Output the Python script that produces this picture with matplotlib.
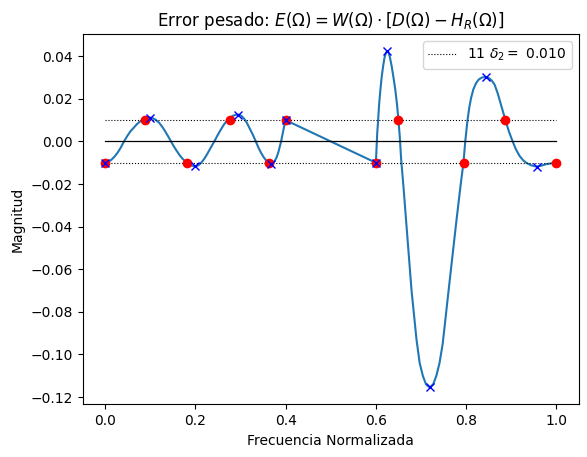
import matplotlib
matplotlib.use("Agg")
import matplotlib.pyplot as plt

# Weighted error curve (passband 0-0.4, stopband 0.6-1.0)
f_pass = [0.000, 0.007, 0.014, 0.021, 0.028, 0.035, 0.042, 0.049, 0.056, 0.064,
          0.071, 0.079, 0.087, 0.093, 0.099, 0.105, 0.112, 0.120, 0.127, 0.133,
          0.140, 0.146, 0.152, 0.158, 0.165, 0.172, 0.181, 0.188, 0.195, 0.200,
          0.206, 0.213, 0.220, 0.226, 0.233, 0.242, 0.249, 0.256, 0.263, 0.270,
          0.277, 0.284, 0.291, 0.296, 0.302, 0.308, 0.314, 0.320, 0.327, 0.334,
          0.340, 0.346, 0.352, 0.358, 0.363, 0.367, 0.371, 0.376, 0.380, 0.384,
          0.387, 0.390, 0.393, 0.396, 0.398, 0.400]
e_pass = [-0.0100, -0.0096, -0.0086, -0.0071, -0.0052, -0.0028, 0.0000, 0.0025, 0.0047, 0.0066,
          0.0082, 0.0096, 0.0106, 0.0111, 0.0112, 0.0110, 0.0102, 0.0087, 0.0068, 0.0048,
          0.0023, 0.0000, -0.0022, -0.0042, -0.0064, -0.0082, -0.0100, -0.0110, -0.0115, -0.0116,
          -0.0113, -0.0100, -0.0081, -0.0060, -0.0034, 0.0000, 0.0028, 0.0054, 0.0078, 0.0097,
          0.0111, 0.0121, 0.0126, 0.0126, 0.0120, 0.0107, 0.0088, 0.0063, 0.0033, 0.0000,
          -0.0030, -0.0055, -0.0076, -0.0092, -0.0101, -0.0104, -0.0101, -0.0091, -0.0075, -0.0050,
          -0.0025, 0.0000, 0.0032, 0.0065, 0.0084, 0.0100]
f_stop = [0.600, 0.6015, 0.603, 0.605, 0.607, 0.610, 0.613, 0.616, 0.619, 0.622,
          0.625, 0.628, 0.631, 0.635, 0.639, 0.643, 0.647, 0.650, 0.653, 0.656,
          0.661, 0.668, 0.679, 0.690, 0.697, 0.704, 0.711, 0.719, 0.727, 0.734,
          0.741, 0.748, 0.760, 0.778, 0.788, 0.794, 0.798, 0.803, 0.807, 0.811,
          0.816, 0.822, 0.828, 0.835, 0.843, 0.851, 0.857, 0.863, 0.870, 0.877,
          0.882, 0.887, 0.895, 0.903, 0.910, 0.918, 0.926, 0.933, 0.944, 0.955,
          0.966, 0.977, 0.988, 1.000]
e_stop = [-0.0100, -0.0030, 0.0040, 0.0100, 0.0170, 0.0243, 0.0305, 0.0353, 0.0392, 0.0415,
          0.0424, 0.0418, 0.0396, 0.0353, 0.0300, 0.0243, 0.0170, 0.0100, 0.0020, -0.0085,
          -0.0210, -0.0398, -0.0700, -0.0930, -0.1040, -0.1100, -0.1140, -0.1155, -0.1140, -0.1100,
          -0.1040, -0.0950, -0.0720, -0.0380, -0.0200, -0.0100, 0.0000, 0.0100, 0.0160, 0.0205,
          0.0245, 0.0274, 0.0291, 0.0300, 0.0303, 0.0297, 0.0285, 0.0267, 0.0225, 0.0174,
          0.0137, 0.0100, 0.0045, 0.0000, -0.0036, -0.0067, -0.0088, -0.0100, -0.0112, -0.0118,
          -0.0114, -0.0107, -0.0103, -0.0100]

# Extremal frequencies (red dots)
f_ext = [0.000, 0.089, 0.182, 0.276, 0.364, 0.400, 0.600, 0.650, 0.795, 0.887, 1.000]
e_ext = [-0.010, 0.010, -0.010, 0.010, -0.010, 0.010, -0.010, 0.010, -0.010, 0.010, -0.010]

# Local extrema (blue crosses)
f_max = [0.000, 0.099, 0.200, 0.294, 0.367, 0.400, 0.600, 0.625, 0.719, 0.843, 0.956]
e_max = [-0.0100, 0.0112, -0.0116, 0.0126, -0.0104, 0.0100, -0.0100, 0.0424, -0.1155, 0.0303, -0.0119]

delta2 = 0.010

fig = plt.figure(figsize=(5.87, 4.57), dpi=100)
ax = fig.add_axes([82.5 / 587, 1 - 404.3 / 457, (579 - 82.5) / 587, (404.3 - 34.3) / 457])

ax.plot(f_pass + f_stop, e_pass + e_stop)
ax.plot([0, 1], [delta2, delta2], 'k:', lw=0.8, label=f"{len(f_ext)} $\\delta_2 =$ {delta2:.3f}")
ax.plot([0, 1], [-delta2, -delta2], 'k:', lw=0.8)
ax.plot([0, 1], [0, 0], 'k-', lw=0.9)
ax.plot(f_ext, e_ext, 'ro')
ax.plot(f_max, e_max, 'bx')

ax.set_title(r"Error pesado: $E(\Omega) = W(\Omega) \cdot [D(\Omega) - H_R(\Omega)]$")
ax.set_xlabel("Frecuencia Normalizada")
ax.set_ylabel("Magnitud")
ax.legend(loc='upper right')

fig.savefig("out.png", dpi=100)
